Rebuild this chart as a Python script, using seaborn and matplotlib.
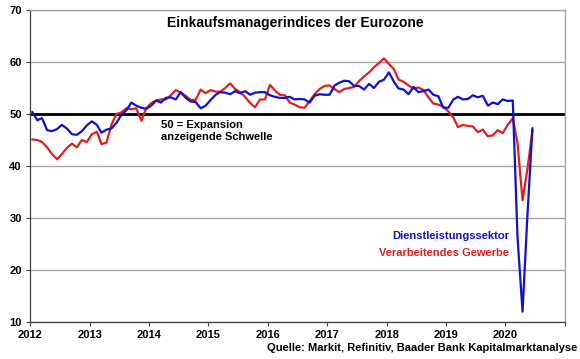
import pandas as pd
import matplotlib
matplotlib.use("Agg")
import matplotlib.pyplot as plt
import seaborn as sns

# Einkaufsmanagerindices Eurozone, monthly Jan 2012 - Jun 2020
services = [
    50.4, 48.8, 49.2, 46.9, 46.7, 47.1, 47.9, 47.2, 46.1, 46.0, 46.7, 47.8,
    48.6, 47.9, 46.4, 47.0, 47.2, 48.3, 49.8, 50.7, 52.2, 51.6, 51.2, 51.0,
    51.6, 52.6, 52.2, 53.1, 53.2, 52.8, 54.2, 53.1, 52.4, 52.3, 51.1, 51.6,
    52.7, 53.7, 54.2, 54.1, 53.8, 54.4, 54.0, 54.4, 53.7, 54.1, 54.2, 54.2,
    53.6, 53.3, 53.1, 53.1, 53.3, 52.8, 52.9, 52.8, 52.2, 53.5, 53.8, 53.7,
    53.7, 55.5, 56.0, 56.4, 56.3, 55.4, 55.4, 54.7, 55.8, 55.0, 56.2, 56.6,
    58.0, 56.2, 54.9, 54.7, 53.8, 55.2, 54.2, 54.4, 54.7, 53.7, 53.4, 51.2,
    51.2, 52.8, 53.3, 52.8, 52.9, 53.6, 53.2, 53.5, 51.6, 52.2, 51.9, 52.8,
    52.5, 52.6, 26.4, 12.0, 30.5, 47.3,
]
manufacturing = [
    45.1, 45.0, 44.6, 43.6, 42.3, 41.3, 42.3, 43.5, 44.3, 43.6, 45.0, 44.6,
    46.1, 46.6, 44.2, 44.5, 47.9, 50.0, 50.3, 51.1, 50.9, 51.1, 48.7, 51.1,
    52.1, 52.6, 52.8, 52.8, 53.6, 54.6, 54.1, 53.5, 52.7, 52.7, 54.7, 54.0,
    54.6, 54.3, 54.3, 55.0, 55.9, 54.8, 54.2, 53.3, 52.1, 51.3, 52.8, 52.8,
    55.6, 54.5, 53.7, 53.6, 52.2, 51.8, 51.3, 51.2, 52.5, 53.8, 54.8, 55.4,
    55.5, 54.8, 54.2, 54.8, 55.0, 55.2, 56.3, 57.2, 58.0, 59.0, 59.8, 60.7,
    59.6, 58.6, 56.6, 56.2, 55.5, 54.9, 55.1, 54.6, 53.2, 52.0, 51.8, 51.4,
    50.5, 49.3, 47.5, 47.9, 47.7, 47.6, 46.5, 47.0, 45.7, 45.9, 46.9, 46.3,
    47.9, 49.2, 44.5, 33.4, 39.4, 46.9,
]
series_names = ["Dienstleistungssektor", "Verarbeitendes Gewerbe"]
series_colors = ["#1010d0", "#e41e1e"]
years = list(range(2012, 2022))
y_ticks = [10, 20, 30, 40, 50, 60, 70]

dates = pd.date_range("2012-01-01", periods=len(services), freq="MS") + pd.Timedelta(days=14)
df = pd.DataFrame({"date": dates, series_names[0]: services, series_names[1]: manufacturing})
long_df = df.melt(id_vars="date", var_name="serie", value_name="wert")

sns.set_style("white")
plt.rcParams["font.family"] = ["Liberation Sans", "DejaVu Sans"]
plt.rcParams["font.weight"] = "bold"
plt.rcParams["text.color"] = "black"
plt.rcParams["xtick.color"] = "black"
plt.rcParams["ytick.color"] = "black"

fig = plt.figure(figsize=(5.8, 3.59), dpi=100)
ax = fig.add_axes([30 / 580, 1 - 322 / 359, 535 / 580, 312 / 359])

# grid lines and 50 threshold
for yv in y_ticks:
    ax.axhline(yv, color="#a6a6a6", lw=1.0, zorder=0)
ax.axhline(50, color="black", lw=2.0, zorder=1)

# blue drawn last so it lies on top, as in the original
sns.lineplot(data=long_df, x="date", y="wert", hue="serie",
             hue_order=series_names[::-1],
             palette=dict(zip(series_names, series_colors)),
             lw=1.6, legend=False, ax=ax, zorder=3)

ax.set_ylim(10, 70)
ax.set_yticks(y_ticks)
ax.set_yticklabels([str(v) for v in y_ticks], fontsize=8, fontweight="bold")
tick_dates = [pd.Timestamp(f"{y}-01-01") for y in years]
ax.set_xlim(tick_dates[0], tick_dates[-1])
ax.set_xticks(tick_dates)
ax.set_xticklabels([str(y) if y < years[-1] else "" for y in years],
                   fontsize=8, fontweight="bold")
ax.set_xlabel("")
ax.set_ylabel("")
ax.tick_params(axis="both", direction="out", length=3, width=0.8,
               color="#404040", labelcolor="black", pad=3, left=True, bottom=True)

for side in ["left", "bottom"]:
    ax.spines[side].set_color("#404040")
    ax.spines[side].set_linewidth(0.9)
for side in ["top", "right"]:
    ax.spines[side].set_color("#a6a6a6")
    ax.spines[side].set_linewidth(1.0)

ax.text(0.495, 0.958, "Einkaufsmanagerindices der Eurozone", transform=ax.transAxes,
        ha="center", va="center", fontsize=10, fontweight="bold", color="black")
ax.text(0.245, 0.647, "50 = Expansion\nanzeigende Schwelle", transform=ax.transAxes,
        ha="left", va="top", fontsize=8, fontweight="bold", linespacing=1.2, color="black")
ax.text(0.895, 26.6, series_names[0], transform=ax.get_yaxis_transform(),
        ha="right", va="center", fontsize=8, fontweight="bold", color=series_colors[0])
ax.text(0.895, 23.2, series_names[1], transform=ax.get_yaxis_transform(),
        ha="right", va="center", fontsize=8, fontweight="bold", color=series_colors[1])

fig.text(577 / 580, 1 - 348 / 359, "Quelle: Markit, Refinitiv, Baader Bank Kapitalmarktanalyse",
         ha="right", va="center", fontsize=8, fontweight="bold", color="black")

fig.savefig("out.png", dpi=100)
